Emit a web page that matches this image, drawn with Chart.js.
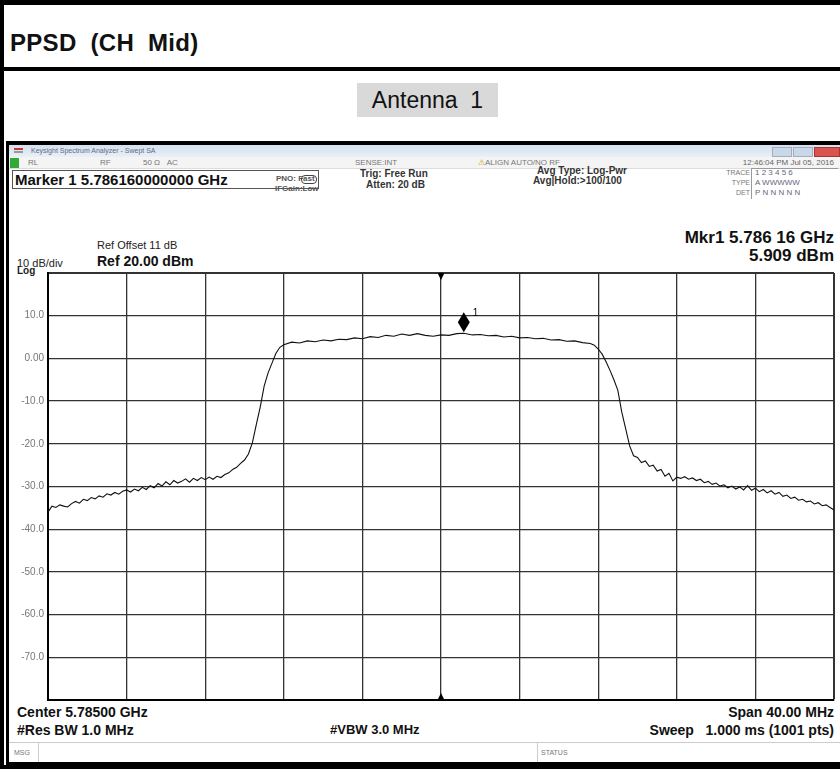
<!DOCTYPE html>
<html>
<head>
<meta charset="utf-8">
<script src="https://cdn.jsdelivr.net/npm/chart.js@4.4.0/dist/chart.umd.min.js"></script>
<style>
body { margin:0; width:840px; height:769px; overflow:hidden; background:#fff; position:relative;
       font-family:"Liberation Sans", Arial, sans-serif; }
.a { position:absolute; white-space:nowrap; }
.b { font-weight:bold; color:#111; }
.tiny { font-size:8px; color:#777; }
.r { text-align:right; }
#chartBox { position:absolute; left:0; top:0; width:840px; height:769px; }
</style>
</head>
<body>
<!-- page frame -->
<div class="a" style="left:0;top:0;width:840px;height:5px;background:#000"></div>
<div class="a" style="left:0;top:0;width:4px;height:769px;background:#000"></div>
<div class="a" style="left:0;top:67px;width:840px;height:4px;background:#000"></div>
<div class="a" style="left:0;top:765px;width:840px;height:4px;background:#000"></div>
<div class="a b" style="left:10px;top:29px;font-size:24px;letter-spacing:0.3px;">PPSD&nbsp; (CH&nbsp; Mid)</div>
<div class="a" style="left:357px;top:83px;width:141px;height:34px;background:#d9d9d9;font-size:23px;line-height:34px;text-align:center;color:#111">Antenna&nbsp; 1</div>

<!-- analyzer screenshot -->
<div class="a" style="left:6px;top:141px;width:834px;height:624px;background:#000"></div>
<div class="a" style="left:9px;top:145px;width:831px;height:617px;background:#fff"></div>
<div class="a" style="left:9px;top:145px;width:831px;height:12px;background:linear-gradient(#d3e0ee,#e9f0f7)"></div>
<div class="a" style="left:14px;top:148px;width:9px;height:2px;background:#c33"></div>
<div class="a" style="left:14px;top:151px;width:9px;height:2px;background:#999"></div>
<div class="a tiny" style="left:31px;top:147px;font-size:7px;color:#668">Keysight Spectrum Analyzer - Swept SA</div>
<div class="a" style="left:772px;top:147px;width:18px;height:8px;background:#c9d8e8;border:1px solid #aab"></div>
<div class="a" style="left:793px;top:147px;width:18px;height:8px;background:#c9d8e8;border:1px solid #aab"></div>
<div class="a" style="left:814px;top:147px;width:24px;height:8px;background:#d9534f;border:1px solid #a33"></div>
<div class="a" style="left:9px;top:157px;width:831px;height:11px;background:#f4f4f4;border-bottom:1px solid #ddd"></div>
<div class="a" style="left:10px;top:158px;width:9px;height:10px;background:#3a3"></div>
<div class="a tiny" style="left:28px;top:158px;">RL</div>
<div class="a tiny" style="left:100px;top:158px;">RF</div>
<div class="a tiny" style="left:143px;top:158px;">50 Ω&nbsp;&nbsp; AC</div>
<div class="a tiny" style="left:355px;top:158px;">SENSE:INT</div>
<div class="a tiny" style="left:478px;top:158px;"><span style="color:#c90">⚠</span>ALIGN AUTO/NO RF</div>
<div class="a tiny r" style="right:6px;top:158px;color:#666">12:46:04 PM Jul 05, 2016</div>

<div class="a" style="left:12px;top:170px;width:305px;height:17px;border:1px solid #555"></div>
<div class="a b" style="left:15px;top:171px;font-size:15px;">Marker 1 5.786160000000 GHz</div>
<div class="a b" style="left:276px;top:174px;font-size:8px;color:#555">PNO: Fast</div>
<div class="a b" style="left:275px;top:184px;font-size:8px;color:#555">IFGain:Low</div>
<div class="a" style="left:301px;top:175px;width:14px;height:7px;border:1px solid #444;border-radius:4px"></div>
<div class="a b" style="left:360px;top:168px;font-size:10px;color:#333">Trig: Free Run</div>
<div class="a b" style="left:366px;top:179px;font-size:10px;color:#333">Atten: 20 dB</div>
<div class="a b" style="left:537px;top:165px;font-size:10px;color:#333">Avg Type: Log-Pwr</div>
<div class="a b" style="left:533px;top:175px;font-size:10px;color:#333">Avg|Hold:&gt;100/100</div>
<div class="a tiny r" style="left:720px;top:168px;width:30px;font-size:7px;line-height:10px">TRACE<br>TYPE<br>DET</div>
<div class="a" style="left:751px;top:168px;width:86px;height:30px;border-left:1px solid #999;border-top:1px solid #999"></div>
<div class="a" style="left:755px;top:168px;font-size:8px;line-height:10px;color:#667">1 2 3 4 5 6<br>A WWWWW<br>P N N N N N</div>

<div class="a b r" style="right:6px;top:228px;font-size:17px;">Mkr1 5.786 16 GHz</div>
<div class="a b r" style="right:6px;top:246px;font-size:17px;">5.909 dBm</div>
<div class="a" style="left:97px;top:239px;font-size:11px;color:#222">Ref Offset 11 dB</div>
<div class="a" style="left:17px;top:257px;font-size:11px;color:#222">10 dB/div</div>
<div class="a b" style="left:97px;top:253px;font-size:14px;">Ref 20.00 dBm</div>
<div class="a b" style="left:17px;top:265px;font-size:10px;color:#222">Log</div>

<div class="a b" style="left:17px;top:704px;font-size:14px;">Center 5.78500 GHz</div>
<div class="a b" style="left:17px;top:722px;font-size:14px;">#Res BW 1.0 MHz</div>
<div class="a b" style="left:330px;top:722px;font-size:13px;">#VBW 3.0 MHz</div>
<div class="a b r" style="right:6px;top:704px;font-size:14px;">Span 40.00 MHz</div>
<div class="a b r" style="right:6px;top:722px;font-size:14px;">Sweep&nbsp;&nbsp; 1.000 ms (1001 pts)</div>
<div class="a" style="left:9px;top:742px;width:831px;height:1px;background:#ccc"></div>
<div class="a" style="left:38px;top:743px;width:1px;height:19px;background:#ccc"></div>
<div class="a" style="left:537px;top:743px;width:1px;height:19px;background:#ccc"></div>
<div class="a tiny" style="left:14px;top:749px;font-size:7px;">MSG</div>
<div class="a tiny" style="left:541px;top:749px;font-size:7px;">STATUS</div>

<div id="chartBox"><canvas id="myChart" width="840" height="769"></canvas></div>

<script>
// sweep settings
var centerMHz = 5785;
var spanMHz = 40;
var refLevel = 20;
var bottomLevel = -80;

// trace: offset from center (MHz) and level (dBm)
var offsetMHz = [-20.0, -19.8, -19.6, -19.4, -19.2, -19.0, -18.8, -18.6, -18.4, -18.2,
    -18.0, -17.8, -17.6, -17.4, -17.2, -17.0, -16.8, -16.6, -16.4, -16.2,
    -16.0, -15.8, -15.6, -15.4, -15.2, -15.0, -14.8, -14.6, -14.4, -14.2,
    -14.0, -13.8, -13.6, -13.4, -13.2, -13.0, -12.8, -12.6, -12.4, -12.2,
    -12.0, -11.8, -11.6, -11.4, -11.2, -11.0, -10.8, -10.6, -10.4, -10.2,
    -10.0, -9.8, -9.6, -9.4, -9.2, -9.0, -8.8, -8.6, -8.4, -8.2,
    -8.0, -7.6, -7.2, -6.8, -6.4, -6.0, -5.6, -5.2, -4.8, -4.4,
    -4.0, -3.6, -3.2, -2.8, -2.4, -2.0, -1.6, -1.2, -0.8, -0.4,
    0.0, 0.4, 0.8, 1.16, 1.6, 2.0, 2.4, 2.8, 3.2, 3.6,
    4.0, 4.4, 4.8, 5.2, 5.6, 6.0, 6.4, 6.8, 7.2, 7.6,
    7.8, 8.0, 8.2, 8.4, 8.6, 8.8, 9.0, 9.2, 9.4, 9.6,
    9.8, 10.0, 10.2, 10.4, 10.6, 10.8, 11.0, 11.2, 11.4, 11.6,
    11.8, 12.0, 12.2, 12.4, 12.6, 12.8, 13.0, 13.2, 13.4, 13.6,
    13.8, 14.0, 14.2, 14.4, 14.6, 14.8, 15.0, 15.2, 15.4, 15.6,
    15.8, 16.0, 16.2, 16.4, 16.6, 16.8, 17.0, 17.2, 17.4, 17.6,
    17.8, 18.0, 18.2, 18.4, 18.6, 18.8, 19.0, 19.2, 19.4, 19.6,
    19.8, 20.0];
var levelDbm = [-36.0, -34.6, -34.9, -34.3, -34.6, -34.8, -34.0, -33.5, -33.9, -33.0,
    -33.3, -32.6, -32.9, -32.2, -32.5, -31.7, -32.0, -31.4, -31.8, -31.1,
    -30.8, -31.3, -30.6, -31.0, -30.2, -30.7, -29.8, -30.3, -29.3, -29.9,
    -28.9, -29.6, -28.6, -29.2, -28.8, -28.2, -29.0, -28.1, -28.6, -27.9,
    -28.4, -27.8, -28.3, -27.6, -27.9, -27.2, -26.8, -26.0, -25.5, -24.6,
    -23.8, -22.4, -19.8, -15.5, -11.4, -6.5, -3.4, -1.1, 1.2, 2.6,
    3.2, 3.8, 3.6, 4.1, 3.9, 4.3, 4.1, 4.5, 4.4, 4.8,
    4.6, 5.1, 4.9, 5.4, 5.2, 5.7, 5.4, 5.8, 5.4, 5.2,
    5.5, 5.4, 5.8, 5.9, 5.5, 5.6, 5.3, 5.4, 5.0, 5.2,
    4.8, 4.9, 4.6, 4.7, 4.3, 4.4, 4.0, 4.1, 3.7, 3.5,
    3.1, 2.2, 1.0, -0.8, -2.8, -5.0, -7.5, -12.6, -16.5, -20.5,
    -22.8, -23.2, -24.4, -24.0, -25.3, -25.0, -26.4, -26.0, -27.6, -26.9,
    -28.7, -27.8, -28.1, -27.7, -28.3, -28.0, -28.6, -28.3, -29.1, -28.8,
    -29.5, -29.2, -29.9, -29.6, -30.3, -29.9, -30.6, -30.1, -30.8, -29.8,
    -30.9, -30.4, -31.2, -30.7, -31.5, -31.0, -31.8, -31.4, -32.3, -32.0,
    -32.8, -32.5, -33.2, -33.0, -33.6, -33.4, -34.1, -33.8, -34.5, -34.3,
    -34.9, -35.5];

// marker 1
var markerMHz = 5786.16;
var markerDbm = 5.909;

var trace = [];
for (var i = 0; i < offsetMHz.length; i++) {
    trace.push({x: centerMHz + offsetMHz[i], y: levelDbm[i]});
}

// center triangles and marker diamond, placed through the scales
var markerPlugin = {
    id: 'markers',
    afterDatasetsDraw: function(chart) {
        var ctx = chart.ctx, xs = chart.scales.x, ys = chart.scales.y;
        var cx = xs.getPixelForValue(centerMHz);
        var top = ys.getPixelForValue(refLevel), bot = ys.getPixelForValue(bottomLevel);
        ctx.save();
        ctx.fillStyle = '#000';
        ctx.beginPath();
        ctx.moveTo(cx - 3.5, top); ctx.lineTo(cx + 3.5, top); ctx.lineTo(cx, top + 7); ctx.fill();
        ctx.beginPath();
        ctx.moveTo(cx - 3.5, bot); ctx.lineTo(cx + 3.5, bot); ctx.lineTo(cx, bot - 7); ctx.fill();
        var mx = xs.getPixelForValue(markerMHz), my = ys.getPixelForValue(markerDbm);
        ctx.beginPath();
        ctx.moveTo(mx, my - 1); ctx.lineTo(mx + 6, my - 11); ctx.lineTo(mx, my - 21); ctx.lineTo(mx - 6, my - 11);
        ctx.closePath(); ctx.fill();
        ctx.font = '10px "Liberation Sans", Arial';
        ctx.fillText('1', mx + 9, my - 17);
        ctx.restore();
    }
};

var chart = new Chart(document.getElementById('myChart'), {
    type: 'line',
    data: {
        datasets: [{
            data: trace,
            borderColor: '#111',
            borderWidth: 1.1,
            pointRadius: 0,
            tension: 0,
            fill: false
        }]
    },
    options: {
        responsive: false,
        animation: false,
        layout: { padding: { top: 273, left: 12, right: 6, bottom: 69 } },
        plugins: { legend: { display: false }, tooltip: { enabled: false } },
        scales: {
            x: {
                type: 'linear',
                min: centerMHz - spanMHz / 2,
                max: centerMHz + spanMHz / 2,
                ticks: { display: false, stepSize: 4 },
                grid: {
                    color: '#333',
                    drawTicks: false,
                    lineWidth: function(c) {
                        return (c.tick && (c.tick.value === centerMHz + spanMHz / 2)) ? 2 : 1.3;
                    }
                },
                border: { color: '#000', width: 2 },
                afterFit: function(s) { s.height = 0; }
            },
            y: {
                min: bottomLevel,
                max: refLevel,
                ticks: {
                    stepSize: 10,
                    padding: 4,
                    color: '#777',
                    font: { size: 10, family: '"Liberation Sans", Arial' },
                    callback: function(v) {
                        if (v === refLevel || v === bottomLevel) return '';
                        return v === 0 ? '0.00' : v.toFixed(1);
                    }
                },
                grid: {
                    color: '#333',
                    drawTicks: false,
                    lineWidth: function(c) {
                        return (c.tick && c.tick.value === refLevel) ? 2 : 1.3;
                    }
                },
                border: { color: '#000', width: 2 },
                afterFit: function(s) { s.width = 36; }
            }
        }
    },
    plugins: [markerPlugin]
});
</script>
</body>
</html>
